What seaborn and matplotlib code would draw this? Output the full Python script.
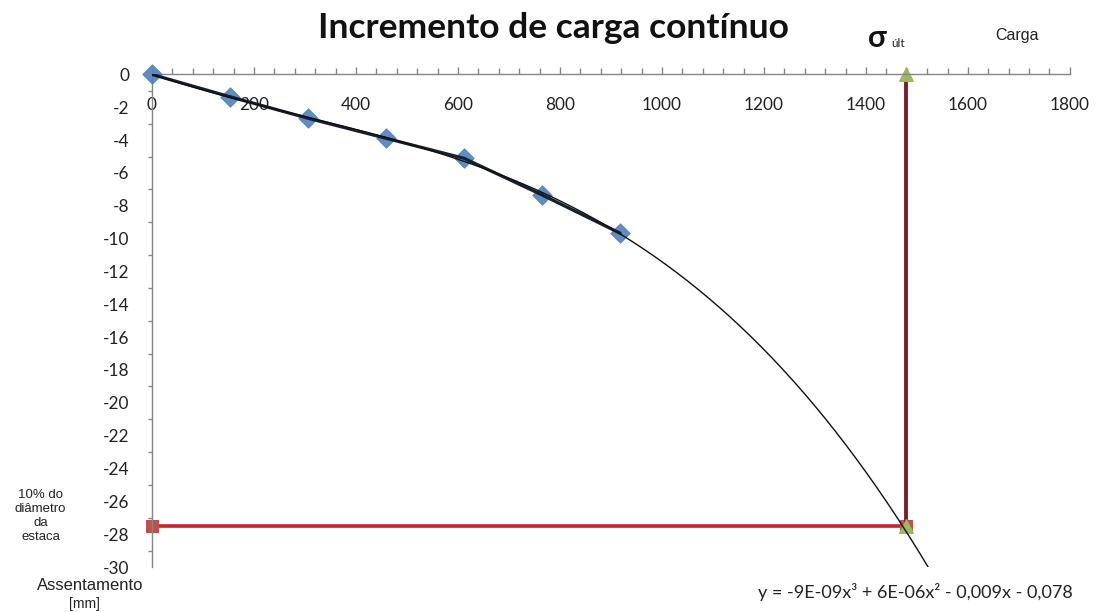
import numpy as np
import matplotlib
matplotlib.use("Agg")
import matplotlib.pyplot as plt
import seaborn as sns
from matplotlib.ticker import MultipleLocator

# Prova de carga: carga aplicada x assentamento medido
carga = [0, 153, 306, 459, 612, 765, 918]
assentamento = [0.0, -1.36, -2.67, -3.89, -5.11, -7.34, -9.67]

# Carga de ruptura e recalque limite (10% do diametro da estaca)
sigma_ult = 1478
recalque_limite = -27.5

x_ticks = list(range(0, 1801, 200))
y_ticks = list(range(-30, 1, 2))

sns.set_theme(style="white")
plt.rcParams["axes.unicode_minus"] = False
plt.rcParams["font.family"] = ["Lato", "DejaVu Sans"]

fig = plt.figure(figsize=(10.98, 6.12), dpi=100)
ax = fig.add_axes([0.1384, 0.0735, 0.836, 0.8049])

# Linha de tendencia polinomial de 3a ordem, prolongada alem dos dados
coef = np.polyfit(carga, assentamento, 3)
x_fit = np.linspace(0, 1650, 400)
y_fit = np.polyval(coef, x_fit)

blue = "#4f81bd"
sns.scatterplot(x=carga, y=assentamento, marker="D", s=95, color=blue,
                edgecolor=blue, linewidth=0.8, alpha=0.9, ax=ax, zorder=3,
                clip_on=False)
sns.lineplot(x=carga, y=assentamento, color="#17202e", linewidth=2.3,
             estimator=None, sort=False, ax=ax, zorder=4)
sns.lineplot(x=x_fit, y=y_fit, color="#111111", linewidth=1.0,
             estimator=None, sort=False, ax=ax, zorder=5)

# Recalque limite (horizontal) e carga ultima (vertical)
sns.lineplot(x=[0, sigma_ult], y=[recalque_limite, recalque_limite],
             color="#c0262d", linewidth=2.6, marker="s", markersize=9,
             markerfacecolor="#c0504d", markeredgecolor="#c0504d",
             estimator=None, sort=False, ax=ax, zorder=2, clip_on=False)
sns.lineplot(x=[sigma_ult, sigma_ult], y=[0, recalque_limite],
             color="#7a1f2e", linewidth=2.8, marker="^", markersize=10,
             markerfacecolor="#9bbb59", markeredgecolor="#9bbb59",
             estimator=None, sort=False, ax=ax, zorder=2.5, clip_on=False)

ax.set_xlim(0, 1800)
ax.set_ylim(-30, 0)
ax.set_xticks(x_ticks)
ax.set_yticks(y_ticks)
ax.xaxis.set_minor_locator(MultipleLocator(40))
ax.yaxis.set_minor_locator(MultipleLocator(1))

axis_gray = "#868686"
for side in ["bottom", "right"]:
    ax.spines[side].set_visible(False)
for side in ["top", "left"]:
    ax.spines[side].set_visible(True)
    ax.spines[side].set_color(axis_gray)
    ax.spines[side].set_linewidth(1.0)

ax.xaxis.set_ticks_position("top")
ax.tick_params(axis="x", which="major", direction="out", length=5, width=1,
               color=axis_gray, labeltop=True, labelbottom=False,
               pad=-33, labelsize=12.4, labelcolor="#222222")
ax.tick_params(axis="x", which="minor", direction="out", length=4, width=1,
               color=axis_gray, top=True, bottom=False)
ax.tick_params(axis="y", which="major", direction="out", length=5, width=1,
               color=axis_gray, pad=11, labelsize=12.4, labelcolor="#222222")
ax.tick_params(axis="y", which="minor", direction="out", length=3, width=1,
               color=axis_gray, left=True)
ax.set_xlabel("")
ax.set_ylabel("")

fig.text(0.504, 0.954, "Incremento de carga contínuo", ha="center",
         va="center", fontsize=25.5, fontweight="bold", color="#111111")
fig.text(0.7905, 0.9232, "σ", ha="left", va="baseline", fontsize=22,
         fontweight="bold", color="#111111")
fig.text(0.8115, 0.9232, "últ", ha="left", va="baseline", fontsize=8.5,
         color="#222222")
fig.text(0.9258, 0.9428, "Carga", ha="center", va="center", fontsize=11.5,
         family="Liberation Sans", color="#222222")
fig.text(0.037, 0.157, "10% do\ndiâmetro\nda\nestaca", ha="center",
         va="center", fontsize=9.5, family="Liberation Sans",
         linespacing=1.2, color="#222222")
fig.text(0.082, 0.044, "Assentamento", ha="center", va="center",
         fontsize=12, family="Liberation Sans", color="#222222")
fig.text(0.0765, 0.0135, "[mm]", ha="center", va="center",
         fontsize=10, family="Liberation Sans", color="#222222")
fig.text(0.8338, 0.0327, "y = -9E-09x³ + 6E-06x² - 0,009x - 0,078",
         ha="center", va="center", fontsize=13, color="#222222")

fig.savefig("out.png", dpi=100)
